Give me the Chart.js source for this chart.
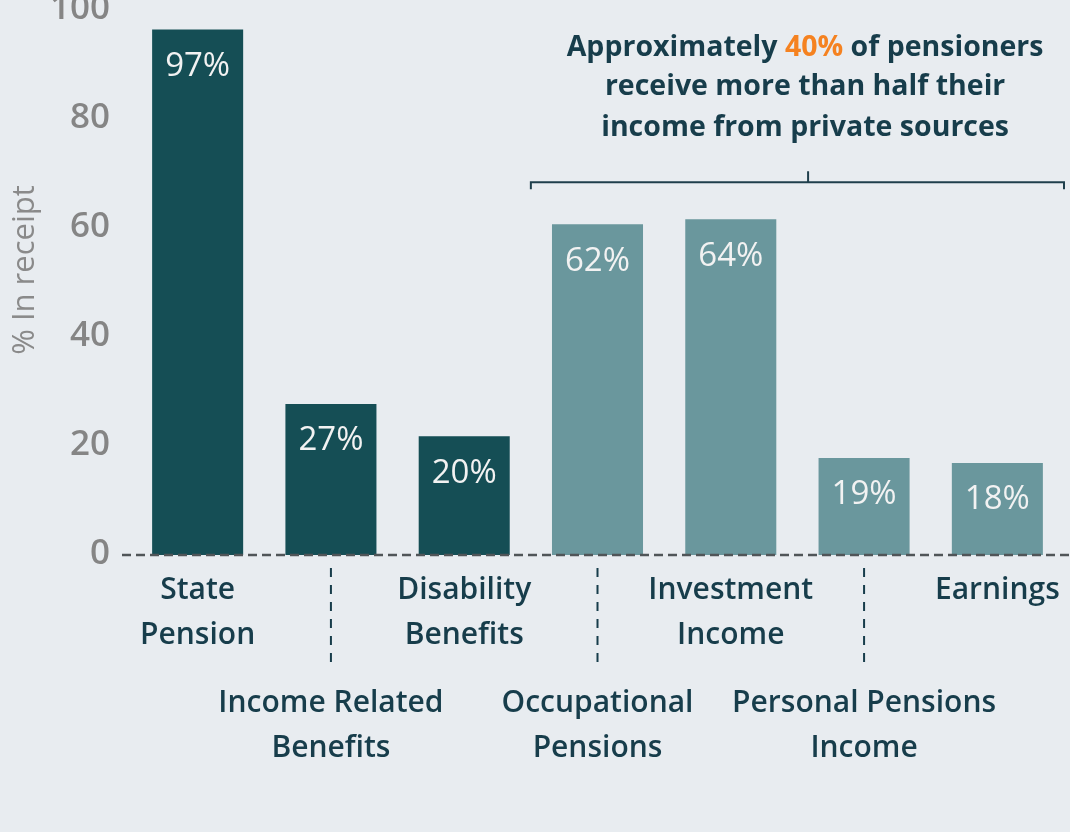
<!DOCTYPE html>
<html><head><meta charset="utf-8">
<script src="https://cdn.jsdelivr.net/npm/chart.js@4.4.0/dist/chart.umd.min.js"></script>
<style>
html,body{margin:0;padding:0;background:#e8ecf0;overflow:hidden}
#wrap{position:absolute;left:0;top:0;width:1070px;height:832px}
</style></head><body>
<div id="wrap"><canvas id="c" width="1070" height="832"></canvas></div>
<script>
// ---- data ----
const categories = [["State","Pension"],["Income Related","Benefits"],["Disability","Benefits"],["Occupational","Pensions"],["Investment","Income"],["Personal Pensions","Income"],["Earnings"]];
const labelRow = [0,1,0,1,0,1,0];
const shares = [96.4, 27.7, 21.8, 60.7, 61.6, 17.8, 16.9];
const shareLabels = ["97%","27%","20%","62%","64%","19%","18%"];
const isPublicSource = [true,true,true,false,false,false,false];
const yTicks = [0,20,40,60,80,100];
const yTitle = '% In receipt';
const noteLines = [["Approximately ","40%"," of pensioners"],["receive more than half their"],["income from private sources"]];
const bracketFrom = 2.5, bracketTo = 6.5, bracketMid = 4.58, bracketLevel = 68.4;

const DARK = '#154e55', LIGHT = '#6a979d', TEXT = '#173d4b', ORANGE = '#f58220';

Chart.defaults.font.family = "'Open Sans', sans-serif";

function tickLines(i){
  const c = categories[i];
  if (labelRow[i] === 0) return c.length > 1 ? [c[0], "", c[1]] : [c[0]];
  return ["", "", "", "", "", c[0], "", c[1]];
}

const overlay = {
  id: 'overlay',
  afterDatasetsDraw(chart){
    const ctx = chart.ctx, xs = chart.scales.x, ys = chart.scales.y;
    const meta = chart.getDatasetMeta(0);
    ctx.save();
    // value labels
    ctx.fillStyle = '#f2f2f2';
    ctx.font = "400 33px 'Open Sans'";
    ctx.textAlign = 'center'; ctx.textBaseline = 'middle';
    meta.data.forEach((bar, i) => { ctx.fillText(shareLabels[i], bar.x, bar.y + 37); });
    // zero dashed line
    const y0 = ys.getPixelForValue(0);
    ctx.strokeStyle = '#505558'; ctx.lineWidth = 2.5; ctx.setLineDash([9,5]);
    ctx.beginPath(); ctx.moveTo(chart.chartArea.left - 9, y0); ctx.lineTo(chart.width, y0); ctx.stroke();
    // separators
    ctx.strokeStyle = TEXT; ctx.lineWidth = 2; ctx.setLineDash([9,8]);
    labelRow.forEach((r, i) => {
      if (r !== 1) return;
      const x = xs.getPixelForValue(i);
      ctx.beginPath(); ctx.moveTo(x, y0 + 13); ctx.lineTo(x, y0 + 108); ctx.stroke();
    });
    ctx.setLineDash([]);
    // bracket
    const bx0 = xs.getPixelForValue(bracketFrom), bx1 = xs.getPixelForValue(bracketTo), bxm = xs.getPixelForValue(bracketMid);
    const by = ys.getPixelForValue(bracketLevel);
    ctx.strokeStyle = '#1f3f4c'; ctx.lineWidth = 2;
    ctx.beginPath();
    ctx.moveTo(bx0, by + 7); ctx.lineTo(bx0, by); ctx.lineTo(bx1, by); ctx.lineTo(bx1, by + 7);
    ctx.moveTo(bxm, by); ctx.lineTo(bxm, by - 11);
    ctx.stroke();
    // note text
    ctx.font = "700 28.5px 'Open Sans'";
    ctx.textBaseline = 'middle'; ctx.textAlign = 'left';
    const offs = [-134, -95, -54];
    noteLines.forEach((parts, li) => {
      const total = parts.reduce((s,p)=>s+ctx.measureText(p).width, 0);
      let x = bxm - 3 - total/2;
      parts.forEach(p => {
        ctx.fillStyle = (p === '40%') ? ORANGE : TEXT;
        ctx.fillText(p, x, by + offs[li]);
        x += ctx.measureText(p).width;
      });
    });
    // y-axis title (rotated)
    ctx.save();
    ctx.translate(25, 270);
    ctx.rotate(-Math.PI / 2);
    ctx.font = "400 31px 'Open Sans'";
    ctx.fillStyle = '#8a8a8a';
    ctx.textAlign = 'center'; ctx.textBaseline = 'middle';
    ctx.fillText(yTitle, 0, 0);
    ctx.restore();
    ctx.restore();
  }
};

new Chart(document.getElementById('c'), {
  type: 'bar',
  data: {
    labels: categories.map((c,i)=>i),
    datasets: [{
      data: shares,
      backgroundColor: isPublicSource.map(p => p ? DARK : LIGHT),
      barPercentage: 0.683,
      categoryPercentage: 1
    }]
  },
  options: {
    responsive: false,
    animation: false,
    devicePixelRatio: 1,
    layout: { padding: { top: 10, right: 6, bottom: 0, left: 0 } },
    plugins: { legend: { display: false }, tooltip: { enabled: false } },
    scales: {
      x: {
        grid: { display: false, drawTicks: false },
        border: { display: false },
        ticks: {
          autoSkip: false, maxRotation: 0, minRotation: 0,
          padding: 24,
          color: TEXT,
          font: { size: 30, weight: '600', lineHeight: '22.6px' },
          callback: (v, i) => tickLines(i)
        },
        afterFit: s => { s.height = 277; s.paddingLeft = 0; s.paddingRight = 0; }
      },
      y: {
        min: 0, max: 100,
        afterBuildTicks: s => { s.ticks = yTicks.map(v => ({ value: v })); },
        grid: { display: false, drawTicks: false },
        border: { display: false },
        ticks: { color: '#858585', padding: 21, labelOffset: -1, font: { size: 35, weight: '600' } },
        title: { display: false },
        afterFit: s => { s.width = 131; s.paddingTop = 0; s.paddingBottom = 0; }
      }
    }
  },
  plugins: [overlay]
});
</script>
</body></html>
